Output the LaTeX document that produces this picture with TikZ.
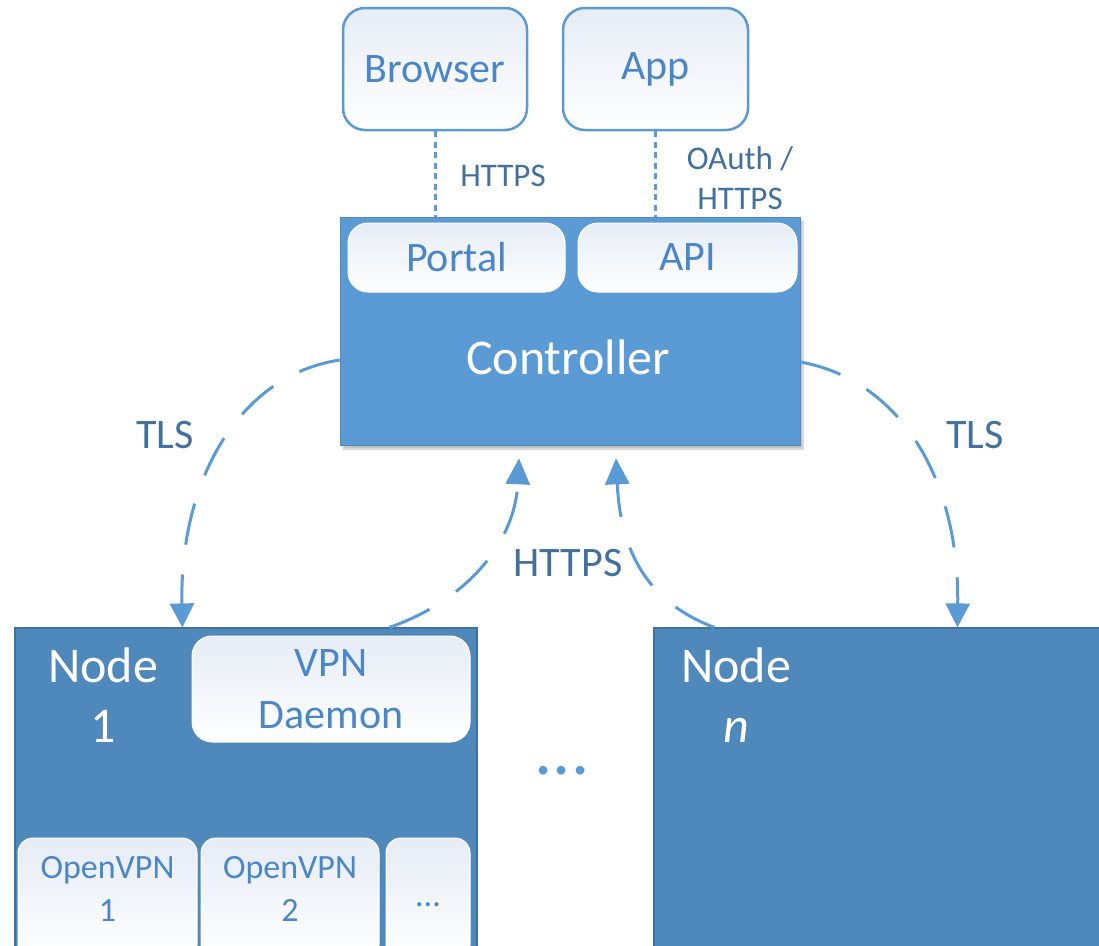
\documentclass[tikz,border=0pt]{standalone}
\usepackage{fontspec}
\setmainfont{Carlito}
\usetikzlibrary{arrows.meta,shadows.blur,calc}
\definecolor{ctrl}{HTML}{5B9BD5}
\definecolor{nodec}{HTML}{4F88BB}
\definecolor{nodeb}{HTML}{41719C}
\definecolor{boxtxt}{HTML}{4A86C8}
\definecolor{lbl}{HTML}{41719C}
\definecolor{lnc}{HTML}{5B9BD5}
\definecolor{grad}{HTML}{E6ECF5}
\newcommand{\fs}[2]{\fontsize{#1}{#2}\selectfont}
\begin{document}
\begin{tikzpicture}[x=1pt,y=-1pt,
  clientbox/.style={draw=lnc,line width=2.5pt,rounded corners=22pt,top color=grad,bottom color=white,text=boxtxt,font=\fs{42}{50}},
  innerbox/.style={draw=white,line width=1pt,rounded corners=20pt,top color=grad,bottom color=white,text=boxtxt,font=\fs{42}{52},align=center},
  ovbox/.style={draw=white,line width=1pt,rounded corners=15pt,top color=grad,bottom color=white},
  ctrlbox/.style={fill=ctrl,draw=ctrl!90!black,line width=0.6pt,blur shadow={shadow xshift=3pt,shadow yshift=-4pt,shadow blur steps=6,shadow opacity=25}},
  nodebox/.style={fill=nodec,draw=nodeb,line width=1.2pt},
  whitetxt/.style={text=white,align=center},
  lbltxt/.style={text=lbl,align=center},
  ovtxt/.style={text=boxtxt,align=center,font=\fs{34}{43}},
  dotline/.style={lnc,line width=3pt,dash pattern=on 6pt off 4.5pt},
  tls/.style={lnc,line width=3pt,dash pattern=on 42pt off 30pt,-{Triangle[length=24pt,width=24pt]}},
  https/.style={lnc,line width=3pt,dash pattern=on 44pt off 32pt,-{Triangle[length=26pt,width=24pt]}}
]
\useasboundingbox (0,0) rectangle (1099,945);
\clip (0,0) rectangle (1099,945);

% clients
\node[clientbox,minimum width=184pt,minimum height=122pt] (browser) at (435,69) {Browser};
\node[clientbox,minimum width=185pt,minimum height=122pt] (app) at (655.5,69) {App};

% controller
\node[ctrlbox,minimum width=460pt,minimum height=228pt] (ctrl) at (570,331) {};
\node[innerbox,minimum width=217pt,minimum height=69pt] (portal) at (456.5,257.5) {Portal};
\node[innerbox,minimum width=219pt,minimum height=69pt] (api) at (687.5,257.5) {API};
\node[whitetxt,font=\fs{50}{56}] (ctrltxt) at (568,357) {Controller};

% dotted links
\draw[dotline] (browser.south) -- (browser.south |- ctrl.north);
\draw[dotline] (app.south) -- (app.south |- ctrl.north);
\node[lbltxt,font=\fs{33}{40}] (lblb) at (503,176) {HTTPS};
\node[lbltxt,font=\fs{33}{40}] (lbla) at (740,178) {OAuth /\\HTTPS};

% node 1
\node[nodebox,minimum width=462pt,minimum height=332pt] (node1) at (246,794) {};
\node[whitetxt,font=\fs{50}{60}] (node1txt) at (103,695) {Node\\1};
\node[innerbox,minimum width=278pt,minimum height=106pt] (vpnd) at (331,689) {VPN\\Daemon};
\node[ovbox,minimum width=179pt,minimum height=122pt] (ov1) at (107.5,899) {};
\node[ovbox,minimum width=178pt,minimum height=122pt] (ov2) at (290,899) {};
\node[ovbox,minimum width=84pt,minimum height=122pt] (ov3) at (428,899) {};
\node[ovtxt] (ov1t) at (107.5,889) {OpenVPN\\1};
\node[ovtxt] (ov2t) at (290,889) {OpenVPN\\2};
\node[ovtxt] (ov3t) at (428,905) {...};

% node n
\node[nodebox,minimum width=456pt,minimum height=332pt] (noden) at (882,794) {};
\node[whitetxt,font=\fs{50}{60}] (nodentxt) at (736,695) {Node\\\textit{n}};

% middle dots
\node[text=lnc,font=\fs{72}{72}] (mdots) at (562,771) {...};

% TLS links
\draw[tls] ($(ctrl.west)+(0,29)$) .. controls +(-100,15) and +(-3,-148) .. ($(node1.north west)+(168,0)$);
\draw[tls] ($(ctrl.east)+(0,31)$) .. controls +(100,18) and +(2,-148) .. ($(noden.north west)+(304,0)$);
\node[lbltxt,font=\fs{42}{50}] (tlsl) at (165,435) {TLS};
\node[lbltxt,font=\fs{42}{50}] (tlsr) at (975,435) {TLS};

% HTTPS links
\draw[https] ($(node1.north west)+(375,0)$) .. controls +(80,-28) and +(-4,82) .. ($(ctrl.south)+(-51,13)$);
\draw[https] ($(noden.north west)+(61,0)$) .. controls +(-75,-28) and +(4,82) .. ($(ctrl.south)+(46,13)$);
\node[lbltxt,font=\fs{42}{50}] (lblh) at (568,563) {HTTPS};
\end{tikzpicture}
\end{document}
